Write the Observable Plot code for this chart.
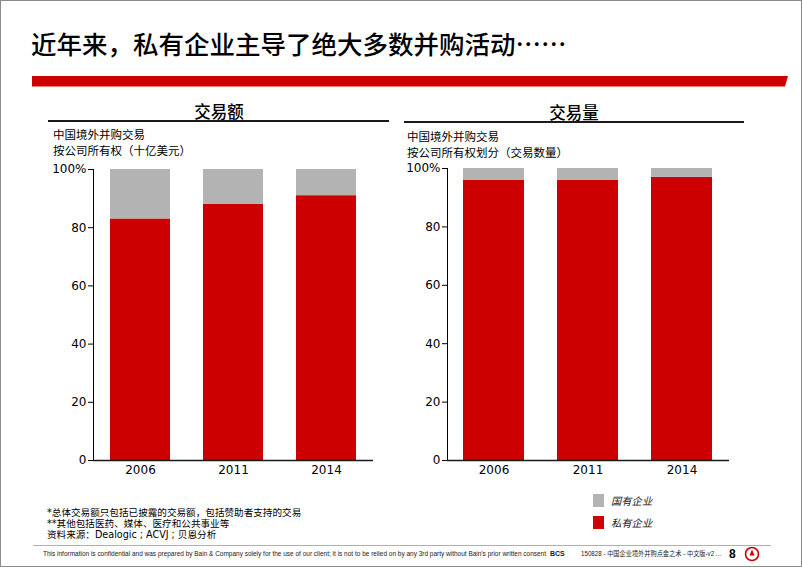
<!DOCTYPE html>
<html><head><meta charset="utf-8">
<script src="https://cdn.jsdelivr.net/npm/d3@7"></script>
<script src="https://cdn.jsdelivr.net/npm/@observablehq/plot@0.6"></script>
<style>
html,body{margin:0;padding:0;background:#fff;}
#slide{position:relative;width:802px;height:567px;box-sizing:border-box;border:1px solid #8c8c8c;overflow:hidden;
  font-family:"DejaVu Sans","Noto Sans CJK SC",sans-serif;color:#000;}
.abs{position:absolute;white-space:nowrap;line-height:1;}
.cjk{font-family:"Noto Sans CJK SC",sans-serif;}
.mid{transform:translateY(-50%);}
.hdr{font-family:"Noto Sans CJK SC",sans-serif;font-size:16.5px;font-weight:500;transform:translate(-50%,-50%);}
.rule{position:absolute;height:2px;background:#1a1a1a;}
.sub{font-family:"Noto Sans CJK SC",sans-serif;font-size:11.5px;transform:translateY(-50%);}
.note{font-size:9.6px;transform:translateY(-50%);}
.leg{font-family:"Noto Sans CJK SC",sans-serif;font-size:10.3px;font-style:italic;transform:translateY(-50%);color:#222;}
.sw{position:absolute;width:11px;height:13px;}
.chart{position:absolute;}
.foot{font-family:'Liberation Sans',sans-serif;font-size:7px;color:#222;transform-origin:0 50%;}
</style></head>
<body><div id="slide">
  <div class="abs cjk mid" style="left:30px;top:42px;font-size:25.5px;font-weight:500;">近年来，私有企业主导了绝大多数并购活动……</div>
  <div class="abs" style="left:31px;top:75px;width:756px;height:10.5px;background:#CC0000;clip-path:polygon(0 0,100% 0,99.6% 100%,0 100%);"></div>

  <div class="abs hdr" style="left:218px;top:110px;">交易额</div>
  <div class="rule" style="left:47px;top:119px;width:341px;"></div>
  <div class="abs hdr" style="left:573px;top:111px;">交易量</div>
  <div class="rule" style="left:403px;top:120px;width:340px;"></div>

  <div class="abs sub" style="left:52px;top:133.5px;">中国境外并购交易</div>
  <div class="abs sub" style="left:52px;top:149.5px;">按公司所有权（十亿美元）</div>
  <div class="abs sub" style="left:406px;top:135.5px;">中国境外并购交易</div>
  <div class="abs sub" style="left:406px;top:151.5px;">按公司所有权划分（交易数量）</div>

  <div id="left" class="chart" style="left:40px;top:160px;"></div>
  <div id="right" class="chart" style="left:394px;top:159px;"></div>

  <div class="abs note" style="left:46px;top:512px;">*总体交易额只包括已披露的交易额，包括赞助者支持的交易</div>
  <div class="abs note" style="left:46px;top:523px;">**其他包括医药、媒体、医疗和公共事业等</div>
  <div class="abs note" style="left:46px;top:534px;">资料来源：Dealogic ; ACVJ ; 贝恩分析</div>

  <div id="legend"></div>

  <div class="abs" style="left:32px;top:544px;width:738px;height:1px;background:#b0b0b0;"></div>
  <div class="abs foot fit" data-w="503" style="left:42px;top:549px;">This information is confidential and was prepared by Bain &amp; Company solely for the use of our client; it is not to be relied on by any 3rd party without Bain's prior written consent</div>
  <div class="abs foot" style="left:549px;top:549px;font-weight:bold;">BCS</div>
  <div class="abs foot fit" data-w="140" style="left:580px;top:549px;font-family:'Liberation Sans','Noto Sans CJK SC',sans-serif;">150828 - 中国企业境外并购点金之术 - 中文版-v2 ...</div>
  <div class="abs" style="left:728px;top:547px;font-family:'Liberation Sans',sans-serif;font-size:12px;font-weight:bold;">8</div>
  <svg class="abs" style="left:743px;top:545px;" width="16" height="16" viewBox="0 0 16 16">
    <circle cx="8" cy="8" r="6.5" fill="none" stroke="#CC0000" stroke-width="1.6"/>
    <path d="M8 3.5 L10.5 9.5 L5.5 9.5 Z" fill="#CC0000"/>
  </svg>
</div>
<script>
const years = ["2006", "2011", "2014"];
const valuePrivate = [83, 88, 91];
const valueState = [17, 12, 9];
const countPrivate = [96, 96, 97];
const countState = [4, 4, 3];
const yTicks = [0, 20, 40, 60, 80, 100];
const seriesNames = ["私有企业", "国有企业"];
const seriesColors = ["#CC0000", "#B3B3B3"];
const legendOrder = ["国有企业", "私有企业"];

function panel(priv, state, size) {
  const data = years.flatMap((y, i) => [
    {year: y, owner: seriesNames[0], v: priv[i]},
    {year: y, owner: seriesNames[1], v: state[i]}
  ]);
  return Plot.plot({
    width: size.width, height: size.height,
    marginLeft: size.ml, marginRight: size.mr, marginTop: size.mt, marginBottom: size.mb,
    style: {fontFamily: "'DejaVu Sans', Verdana, sans-serif", fontSize: "12px", color: "#000", background: "transparent", overflow: "visible"},
    x: {domain: years, paddingInner: 0.35, paddingOuter: 0.175, label: null, tickSize: 0, tickPadding: 5},
    y: {domain: [0, 100], ticks: yTicks, label: null, tickSize: 5, tickPadding: 2, line: true,
        tickFormat: d => d === 100 ? "100%" : String(d)},
    color: {domain: seriesNames, range: seriesColors},
    marks: [
      Plot.barY(data, {x: "year", y: "v", fill: "owner", order: seriesNames}),
      Plot.ruleY([0], {stroke: "#1a1a1a", strokeWidth: 1.5})
    ]
  });
}

document.getElementById("left").appendChild(
  panel(valuePrivate, valueState, {width: 345, height: 323, ml: 52, mr: 13, mt: 8, mb: 24}));
document.getElementById("right").appendChild(
  panel(countPrivate, countState, {width: 347, height: 324, ml: 52, mr: 13, mt: 8, mb: 24}));

const leg = document.getElementById("legend");
legendOrder.forEach((name, i) => {
  const c = seriesColors[seriesNames.indexOf(name)];
  const top = 493 + i * 22;
  const sw = document.createElement("div");
  sw.className = "sw"; sw.style.left = "592px"; sw.style.top = top + "px"; sw.style.background = c;
  const t = document.createElement("div");
  t.className = "abs leg"; t.style.left = "610px"; t.style.top = (top + 7) + "px"; t.textContent = name;
  leg.appendChild(sw); leg.appendChild(t);
});

document.querySelectorAll(".fit").forEach(el => {
  const w = el.getBoundingClientRect().width;
  const target = +el.dataset.w;
  if (w > 0) el.style.transform = `scaleX(${target / w})`;
});
</script>
</body></html>
